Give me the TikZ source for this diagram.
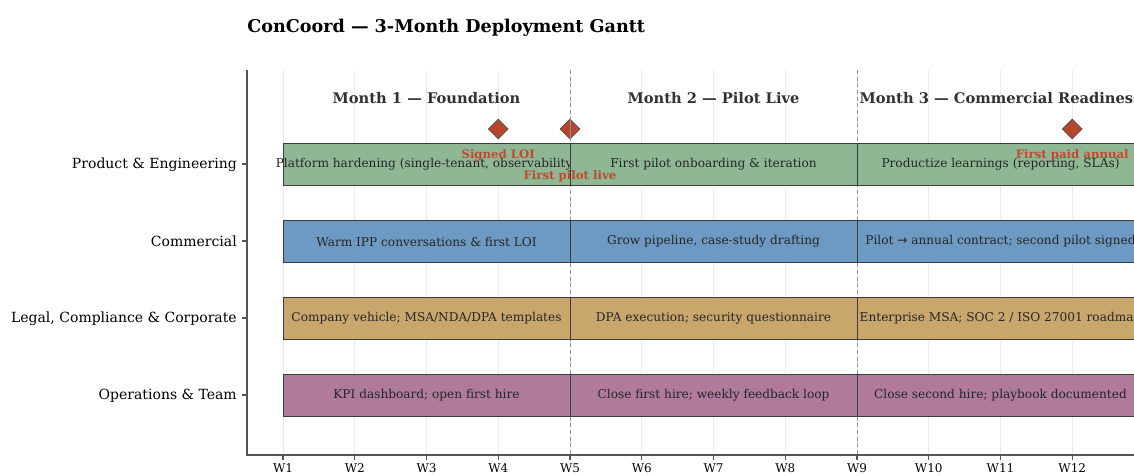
\documentclass[tikz,border=0pt]{standalone}
\usepackage{fontspec}
\setmainfont{DejaVu Serif}
\usetikzlibrary{shapes.geometric}
\definecolor{cgreen}{HTML}{8FB794}
\definecolor{cblue}{HTML}{6C9AC2}
\definecolor{ctan}{HTML}{C9A66B}
\definecolor{cpurple}{HTML}{B07A9C}
\definecolor{cmile}{HTML}{B6472D}
\definecolor{cmilet}{HTML}{C04A30}
\definecolor{ctext}{HTML}{262626}
\definecolor{cgrid}{HTML}{EBEBEB}
\definecolor{cspine}{HTML}{555555}
\tikzset{
  barbox/.style={draw=ctext!90, line width=0.7pt},
  bartext/.style={font=\fontsize{9.1}{11}\selectfont, text=ctext, inner sep=0pt},
  monthlbl/.style={font=\bfseries\fontsize{11}{13}\selectfont, text=ctext!95, inner sep=0pt},
  rowlbl/.style={font=\fontsize{10.5}{12}\selectfont, text=black, anchor=east, inner sep=0pt},
  weeklbl/.style={font=\fontsize{9}{11}\selectfont, text=black, inner sep=0pt},
  milestone/.style={diamond, fill=cmile, draw=ctext!80, line width=0.6pt, minimum width=20*0.75pt, minimum height=20*0.75pt, inner sep=0pt},
  milelbl/.style={font=\bfseries\fontsize{8.8}{10}\selectfont, text=cmilet, inner sep=0pt},
  sep/.style={draw=black!42, dash pattern=on 3pt off 2pt, line width=0.7pt},
}
\begin{document}
\begin{tikzpicture}[x=0.75pt, y=-0.75pt]
\useasboundingbox (0,0) rectangle (1134,475);
% grid
\foreach \i in {1,...,13} {
  \draw[cgrid, line width=0.6pt] ({283+(\i-1)*71.75},70) -- ({283+(\i-1)*71.75},455);
}
% month separators
\draw[sep] (570,70) -- (570,455);
\draw[sep] (857,70) -- (857,455);
% title
\node[font=\bfseries\fontsize{13.2}{16}\selectfont, anchor=west, inner sep=0pt] (title) at (247,28) {ConCoord — 3-Month Deployment Gantt};
% month labels
\node[monthlbl] (m1) at (426.5,98) {Month 1 — Foundation};
\node[monthlbl] (m2) at (713.5,98) {Month 2 — Pilot Live};
\node[monthlbl] (m3) at (1000.5,98) {Month 3 — Commercial Readiness};
% bars
\newcommand{\gbar}[6]{%
  \draw[barbox, fill=#4] (#1,{#3-21}) rectangle (#2,{#3+21});
  \node[bartext] (#5) at ({(#1+#2)/2},{#3+0.5}) {#6};
}
\gbar{283}{570}{164}{cgreen}{b11}{Platform hardening (single-tenant, observability)}
\gbar{570}{857}{164}{cgreen}{b12}{First pilot onboarding \& iteration}
\gbar{857}{1144}{164}{cgreen}{b13}{Productize learnings (reporting, SLAs)}
\gbar{283}{570}{241}{cblue}{b21}{Warm IPP conversations \& first LOI}
\gbar{570}{857}{241}{cblue}{b22}{Grow pipeline, case-study drafting}
\gbar{857}{1144}{241}{cblue}{b23}{Pilot {\fontspec{DejaVu Sans}→} annual contract; second pilot signed}
\gbar{283}{570}{318}{ctan}{b31}{Company vehicle; MSA/NDA/DPA templates}
\gbar{570}{857}{318}{ctan}{b32}{DPA execution; security questionnaire}
\gbar{857}{1144}{318}{ctan}{b33}{Enterprise MSA; SOC 2 / ISO 27001 roadmap}
\gbar{283}{570}{395}{cpurple}{b41}{KPI dashboard; open first hire}
\gbar{570}{857}{395}{cpurple}{b42}{Close first hire; weekly feedback loop}
\gbar{857}{1144}{395}{cpurple}{b43}{Close second hire; playbook documented}
% milestones
\node[milestone] (d1) at (498.25,129) {};
\node[milestone] (d2) at (570,129) {};
\node[milestone] (d3) at (1072.25,129) {};
\draw[black!45, line width=0.6pt] (d2.north) -- (d2.south);
\node[milelbl] (l1) at (498.25,155) {Signed LOI};
\node[milelbl] (l2) at (570,176) {First pilot live};
\node[milelbl] (l3) at (1072.25,155) {First paid annual};
% spines
\draw[cspine, line width=0.9pt] (247,70) -- (247,455) -- (1140,455);
% y ticks
\foreach \y/\t/\n in {164/Product \& Engineering/r1, 241/Commercial/r2, 318/{Legal, Compliance \& Corporate}/r3, 395/Operations \& Team/r4} {
  \draw[cspine, line width=0.9pt] (242,\y) -- (247,\y);
  \node[rowlbl] (\n) at (237,{\y+0.5}) {\t};
}
% x ticks
\foreach \i in {1,...,12} {
  \draw[cspine, line width=0.9pt] ({283+(\i-1)*71.75},455) -- ({283+(\i-1)*71.75},460);
  \node[weeklbl] (w\i) at ({283+(\i-1)*71.75},468.5) {W\i};
}
\end{tikzpicture}
\end{document}
